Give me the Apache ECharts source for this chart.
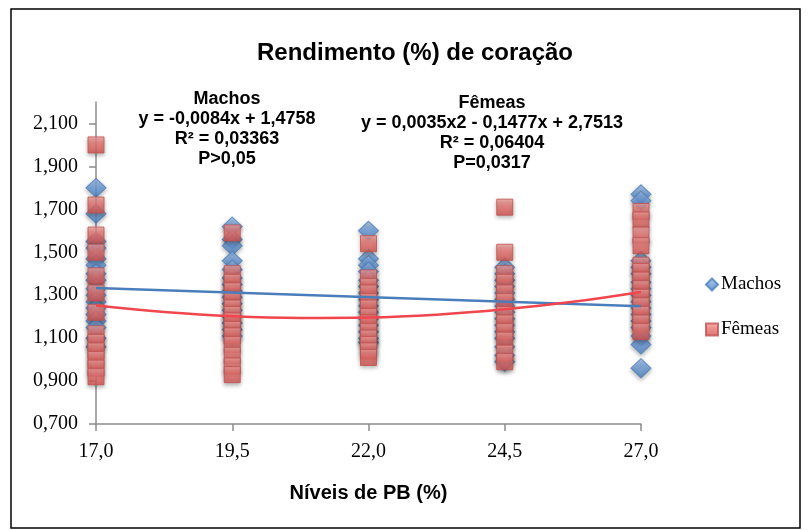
<!DOCTYPE html>
<html>
<head>
<meta charset="utf-8">
<script src="https://cdn.jsdelivr.net/npm/echarts@6/dist/echarts.min.js"></script>
<style>html,body{margin:0;padding:0;background:#fff}#c{width:810px;height:530px}</style>
</head>
<body>
<div id="c"></div>
<script>
// x levels (Níveis de PB, %)
var xLevels = [17.0, 19.5, 22.0, 24.5, 27.0];
var xTickLabels = ['17,0', '19,5', '22,0', '24,5', '27,0'];
var yTickLabels = ['0,700', '0,900', '1,100', '1,300', '1,500', '1,700', '1,900', '2,100'];

// Machos (blue diamonds), values read per level
var machos17 = [1.80, 1.68, 1.55, 1.52, 1.47, 1.44, 1.40, 1.37, 1.33, 1.30, 1.27, 1.24, 1.21, 1.18, 1.15, 1.10, 1.06];
var machos195 = [1.62, 1.56, 1.53, 1.46, 1.42, 1.38, 1.35, 1.32, 1.29, 1.26, 1.23, 1.20, 1.17, 1.14, 1.11];
var machos22 = [1.60, 1.47, 1.44, 1.41, 1.37, 1.34, 1.31, 1.28, 1.25, 1.22, 1.19, 1.16, 1.13, 1.10, 1.08];
var machos245 = [1.43, 1.40, 1.37, 1.34, 1.31, 1.28, 1.25, 1.22, 1.19, 1.16, 1.13, 1.10, 1.06, 1.02, 0.99];
var machos27 = [1.77, 1.74, 1.46, 1.43, 1.40, 1.36, 1.33, 1.30, 1.27, 1.24, 1.21, 1.18, 1.15, 1.11, 1.07, 0.96];

// Fêmeas (red squares)
var femeas17 = [2.00, 1.72, 1.58, 1.50, 1.39, 1.31, 1.22, 1.12, 1.08, 1.04, 1.00, 0.96, 0.92];
var femeas195 = [1.59, 1.40, 1.36, 1.32, 1.28, 1.24, 1.21, 1.18, 1.14, 1.11, 1.07, 1.02, 0.97, 0.93];
var femeas22 = [1.54, 1.38, 1.34, 1.31, 1.27, 1.24, 1.20, 1.17, 1.13, 1.10, 1.07, 1.04, 1.01];
var femeas245 = [1.71, 1.50, 1.40, 1.36, 1.31, 1.27, 1.21, 1.17, 1.13, 1.09, 1.03, 0.99];
var femeas27 = [1.69, 1.65, 1.58, 1.53, 1.44, 1.41, 1.37, 1.33, 1.29, 1.25, 1.21, 1.17, 1.13];

// trend lines
var trendMachosX = [17.0, 27.0];
var trendMachosY = [1.333, 1.249];
var trendFemeasX = [17.0, 18.25, 19.5, 20.75, 22.0, 23.25, 24.5, 25.75, 27.0];
var trendFemeasY = [1.252, 1.222, 1.202, 1.194, 1.196, 1.209, 1.234, 1.269, 1.315];

function pairs(groups) {
  var out = [];
  for (var i = 0; i < groups.length; i++) {
    for (var j = 0; j < groups[i].length; j++) out.push([xLevels[i], groups[i][j]]);
  }
  return out;
}
function zip(xs, ys) { return xs.map(function (x, i) { return [x, ys[i]]; }); }

var machosData = pairs([machos17, machos195, machos22, machos245, machos27]);
var femeasData = pairs([femeas17, femeas195, femeas22, femeas245, femeas27]);

var blueGrad = new echarts.graphic.LinearGradient(0, 0, 0, 1, [
  {offset: 0, color: '#9DBFE8'}, {offset: 0.5, color: '#6A9BD8'}, {offset: 1, color: '#4F81BD'}]);
var redGrad = new echarts.graphic.LinearGradient(0, 0, 0, 1, [
  {offset: 0, color: '#F5A6A3'}, {offset: 0.45, color: '#E8716E'}, {offset: 1, color: '#D4534F'}]);

var serif = '"Liberation Serif", "Times New Roman", serif';
var sans = '"Liberation Sans", Arial, sans-serif';

var chart = echarts.init(document.getElementById('c'));
chart.setOption({
  animation: false,
  backgroundColor: '#ffffff',
  grid: {left: 96, right: 169, top: 102, bottom: 106},
  xAxis: {
    type: 'value', min: 17, max: 27, interval: 2.5,
    name: 'Níveis de PB (%)', nameLocation: 'middle', nameGap: 59,
    nameTextStyle: {fontFamily: sans, fontWeight: 'bold', fontSize: 20, color: '#000'},
    axisLine: {show: true, lineStyle: {color: '#8c8c8c', width: 1.5}},
    axisTick: {show: true, inside: false, length: 7, lineStyle: {color: '#8c8c8c', width: 1.5}},
    splitLine: {show: false},
    axisLabel: {
      margin: 18, fontFamily: serif, fontSize: 20, color: '#000',
      formatter: function (v) { var i = xLevels.indexOf(Math.round(v * 10) / 10); return i >= 0 ? xTickLabels[i] : ''; }
    }
  },
  yAxis: {
    type: 'value', min: 0.7, max: 2.2, interval: 0.2,
    axisLine: {show: true, lineStyle: {color: '#8c8c8c', width: 1.5}},
    axisTick: {show: true, inside: false, length: 7, lineStyle: {color: '#8c8c8c', width: 1.5}},
    splitLine: {show: false},
    axisLabel: {
      margin: 18, fontFamily: serif, fontSize: 20, color: '#000', showMaxLabel: false,
      formatter: function (v) { var k = Math.round((v - 0.7) / 0.2 * 1000) / 1000; return (Number.isInteger(k) && yTickLabels[k]) ? yTickLabels[k] : ''; }
    }
  },
  legend: {
    orient: 'vertical', left: 700, top: 270, itemGap: 26, itemWidth: 12, itemHeight: 12,
    textStyle: {fontFamily: serif, fontSize: 19, color: '#000', padding: [0, 0, 0, -2]},
    data: [{name: 'Machos', icon: 'diamond'}, {name: 'Fêmeas', icon: 'rect'}]
  },
  graphic: [
    {type: 'rect', shape: {x: 11, y: 9, width: 789, height: 519}, style: {fill: 'none', stroke: '#000', lineWidth: 1.5}, silent: true},
    {type: 'text', style: {text: 'Rendimento (%) de coração', x: 415, y: 53, align: 'center', verticalAlign: 'middle', font: 'bold 24px ' + sans, fill: '#000'}},
    {type: 'text', style: {text: 'Machos\ny = -0,0084x + 1,4758\nR² = 0,03363\nP>0,05', x: 227, y: 89, align: 'center', verticalAlign: 'top', lineHeight: 20, font: 'bold 18px ' + sans, fill: '#000'}},
    {type: 'text', style: {text: 'Fêmeas\ny = 0,0035x2 - 0,1477x + 2,7513\nR² = 0,06404\nP=0,0317', x: 492, y: 93, align: 'center', verticalAlign: 'top', lineHeight: 20, font: 'bold 18px ' + sans, fill: '#000'}}
  ],
  series: [
    {
      name: 'Machos', type: 'scatter', symbol: 'diamond', symbolSize: [20, 19], data: machosData, z: 2,
      itemStyle: {color: blueGrad, borderColor: '#4A7EBB', borderWidth: 1, shadowBlur: 4, shadowOffsetY: 2, shadowColor: 'rgba(0,0,0,0.35)'}
    },
    {
      name: 'Fêmeas', type: 'scatter', symbol: 'rect', symbolSize: 16, data: femeasData, z: 3,
      itemStyle: {color: redGrad, borderColor: '#C0504D', borderWidth: 1, shadowBlur: 4, shadowOffsetY: 2, shadowColor: 'rgba(0,0,0,0.35)'}
    },
    {
      name: 'tendMachos', type: 'line', data: zip(trendMachosX, trendMachosY), showSymbol: false, symbol: 'none', z: 4,
      lineStyle: {color: '#4A7EBB', width: 2.5}
    },
    {
      name: 'tendFemeas', type: 'line', data: zip(trendFemeasX, trendFemeasY), showSymbol: false, symbol: 'none', smooth: 0.4, z: 4,
      lineStyle: {color: '#F0464C', width: 2.5}
    }
  ]
});
</script>
</body>
</html>
